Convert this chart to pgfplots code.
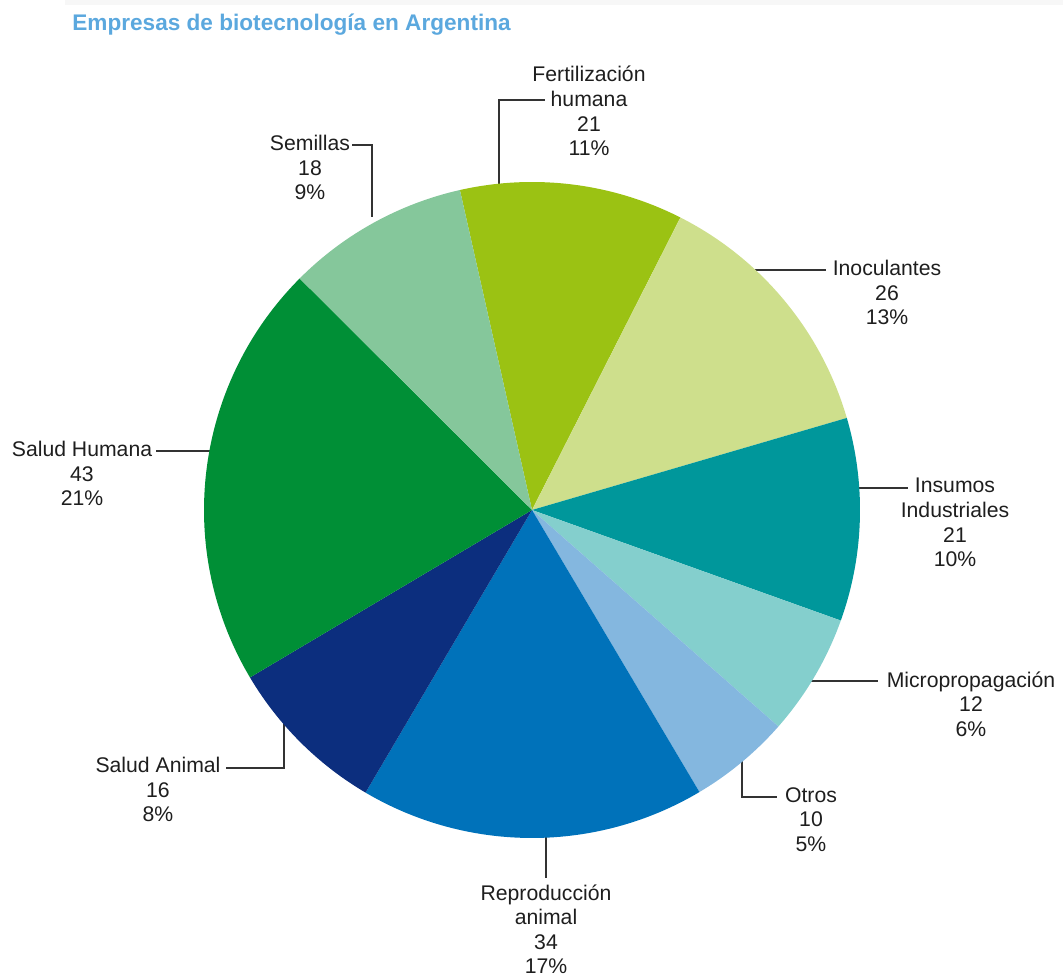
\documentclass[border=0pt]{standalone}
\usepackage{pgfplots}
\pgfplotsset{compat=1.18}
\usepackage{pgfplotstable}
\usepackage{fontspec}
\setmainfont{Liberation Sans}
\definecolor{cFert}{HTML}{9BC213}
\definecolor{cInoc}{HTML}{CEDF8C}
\definecolor{cInsu}{HTML}{00979B}
\definecolor{cMicr}{HTML}{84CFCD}
\definecolor{cOtro}{HTML}{84B7DF}
\definecolor{cRepr}{HTML}{0072BA}
\definecolor{cSAni}{HTML}{0C2E7E}
\definecolor{cSHum}{HTML}{008F36}
\definecolor{cSemi}{HTML}{85C79B}
\definecolor{cTitle}{HTML}{5BA8DE}
\definecolor{cText}{HTML}{1E1E1E}
\definecolor{cLead}{HTML}{333333}

% percentage of each slice (clockwise from the top), count, colour
\pgfplotstableread[col sep=comma]{
pct,count,col
11,21,cFert
13,26,cInoc
10,21,cInsu
6,12,cMicr
5,10,cOtro
17,34,cRepr
8,16,cSAni
21,43,cSHum
9,18,cSemi
}\piedata

\begin{document}
\begin{tikzpicture}
\begin{axis}[
  width=531.5pt, height=489.5pt, scale only axis,
  xmin=0, xmax=1063, ymin=0, ymax=979,
  hide axis, clip=false,
]
\path (axis cs:0,0) rectangle (axis cs:1063,979);
\fill[black!3] (axis cs:65,974) rectangle (axis cs:1063,979);

% title
\node[anchor=west, inner sep=0pt, text=cTitle, font=\fontsize{11.3}{13}\selectfont\bfseries]
  at (axis cs:72,954) {Empresas de biotecnología en Argentina};

% leader lines (drawn first, pie covers their inner ends)
\begin{scope}[cLead, line width=0.65pt]
\draw (axis cs:499,789) |- (axis cs:545,879);
\draw (axis cs:352,834) -| (axis cs:372,762);
\draw (axis cs:750,709) -- (axis cs:826,709);
\draw (axis cs:852,491) -- (axis cs:908,491);
\draw (axis cs:805,298) -- (axis cs:878,298);
\draw (axis cs:742,224) |- (axis cs:777,182);
\draw (axis cs:546,149) -- (axis cs:546,101);
\draw (axis cs:226,211) -| (axis cs:284,262);
\draw (axis cs:156,528) -- (axis cs:216,528);
\end{scope}

% slices
\pgfplotstablegetrowsof{\piedata}
\pgfmathtruncatemacro\nrows{\pgfplotsretval-1}
\def\cumpct{0}
\pgfplotsforeachungrouped \i in {0,...,\nrows}{%
  \pgfplotstablegetelem{\i}{pct}\of\piedata \let\pval\pgfplotsretval
  \pgfplotstablegetelem{\i}{col}\of\piedata \let\slicecol\pgfplotsretval
  \pgfmathsetmacro\angA{102.7-3.6*\cumpct}%
  \pgfmathsetmacro\angB{\angA-3.6*\pval}%
  \edef\temp{\noexpand\fill[\slicecol] (axis cs:532,469) -- ++(\angA:164pt)
    arc[start angle=\angA, end angle=\angB, radius=164pt] -- cycle;}%
  \temp
  \pgfmathsetmacro\cumpct{\cumpct+\pval}%
}

% labels
\begin{scope}[every node/.style={anchor=north, align=center, inner sep=0pt,
    text=cText, font=\fontsize{10.6}{12.3}\selectfont}]
\node at (axis cs:589,913) {Fertilización\\humana\\21\\11\%};
\node at (axis cs:310,844) {Semillas\\18\\9\%};
\node at (axis cs:887,719) {Inoculantes\\26\\13\%};
\node at (axis cs:955,501) {Insumos\\Industriales\\21\\10\%};
\node at (axis cs:971,308) {Micropropagación\\12\\6\%};
\node at (axis cs:811,192) {Otros\\10\\5\%};
\node at (axis cs:546,95) {Reproducción\\animal\\34\\17\%};
\node at (axis cs:158,222) {Salud Animal\\16\\8\%};
\node at (axis cs:82,538) {Salud Humana\\43\\21\%};
\end{scope}
\end{axis}
\end{tikzpicture}
\end{document}
